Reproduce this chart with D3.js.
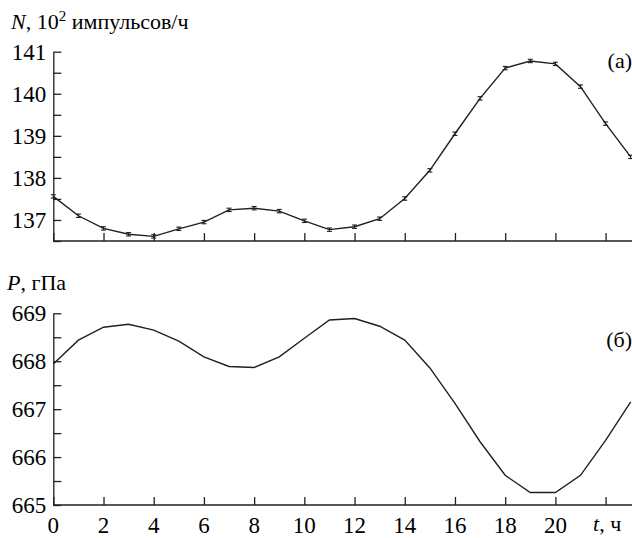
<!DOCTYPE html>
<html><head><meta charset="utf-8"><script src="https://cdn.jsdelivr.net/npm/d3@7"></script></head>
<body style="margin:0">
<svg id="s" width="632" height="538"></svg>
<script>
// hours of the day
const hours = [0, 1, 2, 3, 4, 5, 6, 7, 8, 9, 10, 11, 12, 13, 14, 15, 16, 17, 18, 19, 20, 21, 22, 23];
// (a) count rate N, 10^2 pulses/h
const countN = [137.56, 137.10, 136.80, 136.66, 136.61, 136.79, 136.95, 137.24, 137.28, 137.21,
    136.98, 136.77, 136.84, 137.03, 137.51, 138.18, 139.05, 139.89, 140.61, 140.78,
    140.71, 140.17, 139.29, 138.50];
const countErr = 0.04;
// (b) pressure P, hPa
const pressureP = [667.94, 668.44, 668.71, 668.77, 668.65, 668.42, 668.09, 667.89, 667.87, 668.09,
    668.48, 668.86, 668.89, 668.73, 668.44, 667.86, 667.12, 666.32, 665.62, 665.26,
    665.26, 665.62, 666.35, 667.15];
const xTicks = [0, 2, 4, 6, 8, 10, 12, 14, 16, 18, 20, 22];
const nTicks = [136.5, 137, 137.5, 138, 138.5, 139, 139.5, 140, 140.5, 141];
const pTicks = [665, 665.5, 666, 666.5, 667, 667.5, 668, 668.5, 669];

const W = 632;
const INK = '#231f20';
const FONT = '"Liberation Serif", monospace';
const svg = d3.select('#s');

const x = d3.scaleLinear().domain([0, 23]).range([53.3, 630.7]);
const yN = d3.scaleLinear().domain([136.5, 141]).range([241, 51.7]);
const yP = d3.scaleLinear().domain([665, 669]).range([505, 313.3]);

function panel(y, values, yTicks, bottomLabels) {
    const g = svg.append('g');
    // axes: ticks point inside, labels drawn as separate texts
    const xa = g.append('g')
        .attr('transform', `translate(0,${y.range()[0]})`)
        .call(d3.axisBottom(x).tickValues(xTicks)
            .tickSizeInner(-8).tickSizeOuter(0).tickFormat(''));
    xa.select('.domain').attr('d', `M${x(0)},0H${W}`);
    g.append('g')
        .attr('transform', `translate(${x(0)},0)`)
        .call(d3.axisLeft(y).tickValues(yTicks)
            .tickSizeInner(-8).tickSizeOuter(0).tickFormat(''));
    g.selectAll('path, line').attr('stroke', INK).attr('stroke-width', 1.3);

    const line = d3.line().x((d, i) => x(hours[i])).y((d) => y(d));
    g.append('path')
        .datum(values)
        .attr('fill', 'none')
        .attr('stroke', INK)
        .attr('stroke-width', 1.4)
        .attr('d', line);

    yTicks.filter((d) => Number.isInteger(d)).forEach((d) => {
        svg.append('text').attr('x', x(0) - 7).attr('y', y(d) + 8)
            .attr('text-anchor', 'end').attr('font-size', 23)
            .style('font-family', FONT).text(d);
    });
    if (bottomLabels) {
        xTicks.filter((d) => d < 22).forEach((d) => {
            svg.append('text').attr('x', x(d)).attr('y', y.range()[0] + 28)
                .attr('text-anchor', 'middle').attr('font-size', 23)
                .style('font-family', FONT).text(d);
        });
    }
    return g;
}

const panelN = panel(yN, countN, nTicks, false);
panel(yP, pressureP, pTicks, true);

// small error bars on the count rate
const bars = panelN.append('g').attr('stroke', INK).attr('stroke-width', 1.1);
countN.forEach((v, i) => {
    const cx = x(hours[i]);
    const y0 = yN(v - countErr);
    const y1 = yN(v + countErr);
    bars.append('line').attr('x1', cx).attr('x2', cx).attr('y1', y0).attr('y2', y1);
    bars.append('line').attr('x1', cx - 2.5).attr('x2', cx + 2.5).attr('y1', y0).attr('y2', y0);
    bars.append('line').attr('x1', cx - 2.5).attr('x2', cx + 2.5).attr('y1', y1).attr('y2', y1);
});

// titles and panel marks
function label(xp, yp, size) {
    return svg.append('text').attr('x', xp).attr('y', yp).attr('font-size', size)
        .style('font-family', FONT);
}

const nTitle = label(11, 28.5, 22);
nTitle.append('tspan').attr('font-style', 'italic').text('N');
nTitle.append('tspan').text(', 10');
nTitle.append('tspan').attr('font-size', 15).attr('dy', -8).text('2');
nTitle.append('tspan').attr('dy', 8).text(' импульсов/ч');

const pTitle = label(7, 290, 22);
pTitle.append('tspan').attr('font-style', 'italic').text('P');
pTitle.append('tspan').text(', гПа');

label(632, 68, 22).attr('text-anchor', 'end').text('(a)');
label(632, 346.5, 22).attr('text-anchor', 'end').text('(б)');

const tLabel = label(593, 531, 22);
tLabel.append('tspan').attr('font-style', 'italic').text('t');
tLabel.append('tspan').text(', ч');
</script></body></html>
